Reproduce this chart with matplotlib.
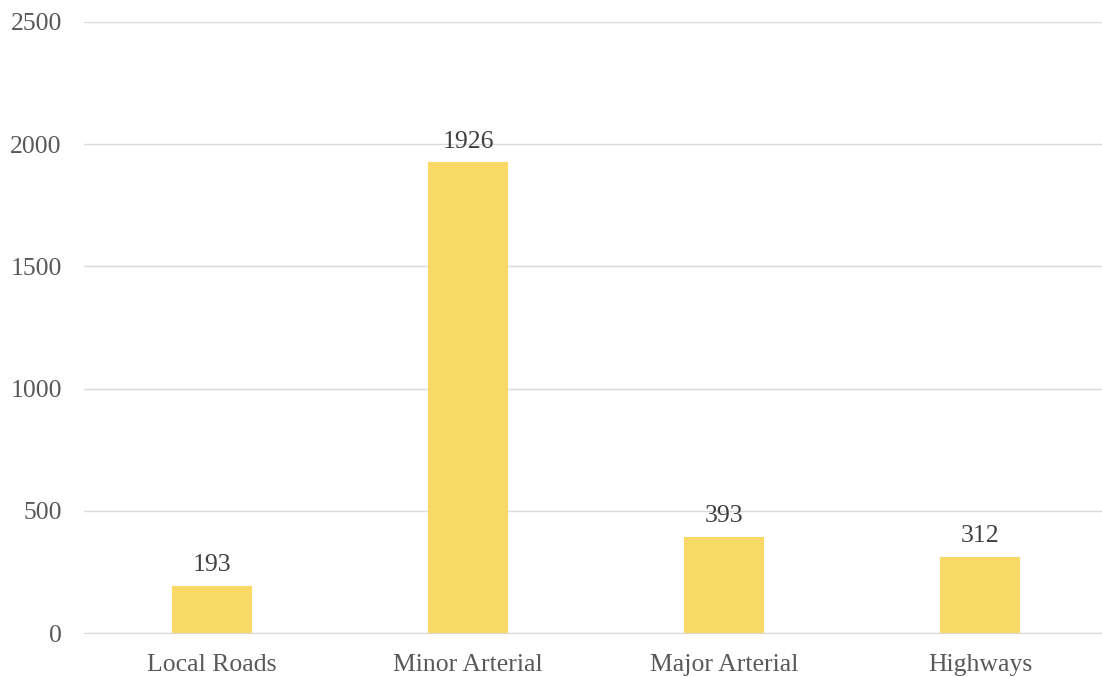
import matplotlib
matplotlib.use("Agg")
import matplotlib.pyplot as plt

categories = ["Local Roads", "Minor Arterial", "Major Arterial", "Highways"]
values = [193, 1926, 393, 312]
yticks = [0, 500, 1000, 1500, 2000, 2500]

plt.rcParams['font.family'] = ['Liberation Serif', 'DejaVu Serif']
text_color = "#595959"

W, H = 1102, 677
fig = plt.figure(figsize=(W / 100, H / 100), dpi=100)
left, right, bottom, top = 84, 1108, 633, 22
ax = fig.add_axes([left / W, (H - bottom) / H, (right - left) / W, (bottom - top) / H])

x = range(len(categories))
ax.bar(x, values, width=0.31, color="#F9D966", zorder=3)
for xi, v in zip(x, values):
    ax.annotate(str(v), (xi, v), xytext=(0, 7), textcoords="offset points",
                ha="center", va="bottom", fontsize=18.5, color="#404040")

ax.set_xlim(-0.5, len(categories) - 0.5)
ax.set_ylim(0, 2500)
ax.set_yticks(yticks)
ax.set_yticklabels([str(t) for t in yticks])
ax.set_xticks(list(x))
ax.set_xticklabels(categories)
ax.tick_params(axis="both", length=0, labelsize=18.5, labelcolor=text_color)
ax.tick_params(axis="y", pad=16)
ax.tick_params(axis="x", pad=15)
ax.grid(axis="y", color="#D9D9D9", linewidth=1, zorder=0)
for s in ["top", "right", "left"]:
    ax.spines[s].set_visible(False)
ax.spines["bottom"].set_color("#D9D9D9")
ax.spines["bottom"].set_zorder(4)

fig.savefig("out.png", dpi=100)
